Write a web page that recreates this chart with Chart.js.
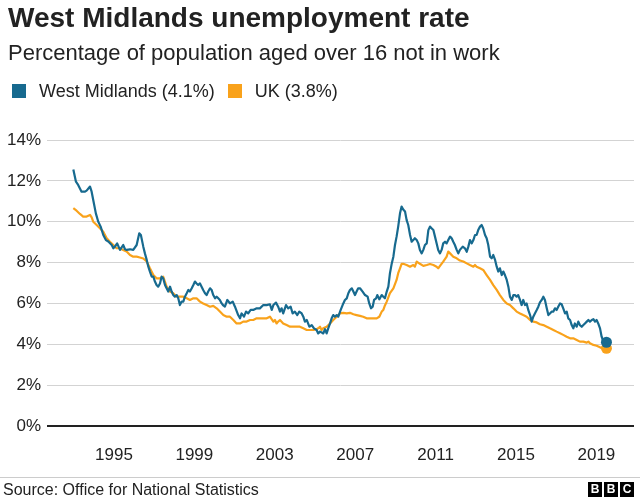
<!DOCTYPE html>
<html>
<head>
<meta charset="utf-8">
<title>West Midlands unemployment rate</title>
<script src="https://cdn.jsdelivr.net/npm/chart.js@4/dist/chart.umd.min.js"></script>
<style>
    html, body { margin: 0; padding: 0; background: #fff; }
    body { font-family: "Liberation Sans", Arial, Helvetica, sans-serif; color: #222; }
    #wrap { position: relative; width: 640px; height: 500px; overflow: hidden; }
    #chart { position: absolute; left: 0; top: 0; }
    .title { position: absolute; left: 8px; top: 4px; font-size: 28px; line-height: 28px; font-weight: bold; white-space: nowrap; }
    .subtitle { position: absolute; left: 8px; top: 42px; font-size: 22px; line-height: 22px; white-space: nowrap; }
    .legend { position: absolute; left: 12px; top: 82px; font-size: 18px; line-height: 18px; white-space: nowrap; }
    .legend span.item { display: inline-block; margin-right: 13px; }
    .legend i { display: inline-block; width: 14px; height: 14px; margin-right: 13px; vertical-align: -1px; }
    .rule { position: absolute; left: 0; top: 477px; width: 640px; height: 1px; background: #cccccc; }
    .source { position: absolute; left: 3px; top: 482px; font-size: 16px; line-height: 16px; white-space: nowrap; }
    .bbc { position: absolute; top: 482px; width: 14px; height: 15px; background: #000; color: #fff;
           font-weight: bold; font-size: 12px; line-height: 15px; text-align: center; }
</style>
</head>
<body>
<div id="wrap">
    <canvas id="chart" width="640" height="500"></canvas>
    <div class="title">West Midlands unemployment rate</div>
    <div class="subtitle">Percentage of population aged over 16 not in work</div>
    <div class="legend">
        <span class="item"><i style="background:#176a8f"></i>West Midlands (4.1%)</span><span class="item"><i style="background:#f9a21b"></i>UK (3.8%)</span>
    </div>
    <div class="rule"></div>
    <div class="source">Source: Office for National Statistics</div>
    <div class="bbc" style="left:588px">B</div>
    <div class="bbc" style="left:604px">B</div>
    <div class="bbc" style="left:620px">C</div>
</div>
<script>
// Axis ticks
const xTicks = [1995, 1999, 2003, 2007, 2011, 2015, 2019];
const yTicks = [0, 2, 4, 6, 8, 10, 12, 14];

// West Midlands, decimal year / rate (%)
const wmYears = [
    1992.98, 1993.11, 1993.22, 1993.39, 1993.56, 1993.64, 1993.81, 1993.89, 1993.97, 1994.10,
    1994.22, 1994.34, 1994.47, 1994.60, 1994.72, 1994.89, 1994.97, 1995.05, 1995.16, 1995.30,
    1995.46, 1995.55, 1995.63, 1995.80, 1995.96, 1996.13, 1996.26, 1996.34, 1996.46, 1996.54,
    1996.63, 1996.71, 1996.79, 1996.88, 1996.96, 1997.04, 1997.12, 1997.20, 1997.29, 1997.37,
    1997.45, 1997.54, 1997.62, 1997.70, 1997.79, 1997.87, 1997.95, 1998.03, 1998.12, 1998.20,
    1998.28, 1998.37, 1998.45, 1998.53, 1998.62, 1998.70, 1998.78, 1998.87, 1998.95, 1999.03,
    1999.11, 1999.19, 1999.28, 1999.36, 1999.44, 1999.53, 1999.61, 1999.69, 1999.78, 1999.86,
    1999.94, 2000.03, 2000.11, 2000.19, 2000.27, 2000.36, 2000.44, 2000.52, 2000.64, 2000.77,
    2000.91, 2001.02, 2001.18, 2001.27, 2001.35, 2001.47, 2001.57, 2001.68, 2001.80, 2001.93,
    2002.10, 2002.26, 2002.43, 2002.60, 2002.76, 2002.85, 2002.93, 2003.06, 2003.17, 2003.26,
    2003.34, 2003.42, 2003.56, 2003.67, 2003.79, 2003.89, 2004.00, 2004.12, 2004.22, 2004.34,
    2004.42, 2004.50, 2004.59, 2004.72, 2004.84, 2004.95, 2005.08, 2005.16, 2005.25, 2005.33,
    2005.41, 2005.50, 2005.58, 2005.66, 2005.75, 2005.83, 2005.91, 2005.99, 2006.08, 2006.16,
    2006.28, 2006.41, 2006.49, 2006.58, 2006.66, 2006.74, 2006.83, 2006.91, 2006.99, 2007.07,
    2007.15, 2007.24, 2007.37, 2007.49, 2007.62, 2007.70, 2007.79, 2007.87, 2007.94, 2008.04,
    2008.10, 2008.20, 2008.32, 2008.40, 2008.48, 2008.57, 2008.65, 2008.73, 2008.82, 2008.90,
    2008.98, 2009.06, 2009.14, 2009.23, 2009.31, 2009.39, 2009.48, 2009.56, 2009.64, 2009.73,
    2009.81, 2009.89, 2009.97, 2010.06, 2010.14, 2010.22, 2010.31, 2010.39, 2010.47, 2010.56,
    2010.64, 2010.72, 2010.81, 2010.89, 2010.97, 2011.05, 2011.13, 2011.22, 2011.30, 2011.38,
    2011.47, 2011.55, 2011.63, 2011.72, 2011.80, 2011.88, 2011.96, 2012.05, 2012.13, 2012.21,
    2012.35, 2012.46, 2012.55, 2012.63, 2012.71, 2012.80, 2012.88, 2012.96, 2013.04, 2013.12,
    2013.21, 2013.29, 2013.37, 2013.46, 2013.54, 2013.62, 2013.71, 2013.79, 2013.87, 2013.96,
    2014.04, 2014.12, 2014.20, 2014.29, 2014.37, 2014.45, 2014.54, 2014.62, 2014.70, 2014.79,
    2014.87, 2014.95, 2015.03, 2015.11, 2015.20, 2015.28, 2015.36, 2015.45, 2015.53, 2015.61,
    2015.70, 2015.78, 2015.86, 2015.94, 2016.03, 2016.11, 2016.19, 2016.28, 2016.36, 2016.44,
    2016.53, 2016.61, 2016.69, 2016.78, 2016.86, 2016.94, 2017.02, 2017.10, 2017.19, 2017.27,
    2017.35, 2017.44, 2017.52, 2017.60, 2017.69, 2017.77, 2017.85, 2017.93, 2018.02, 2018.10,
    2018.18, 2018.27, 2018.35, 2018.43, 2018.52, 2018.60, 2018.68, 2018.77, 2018.85, 2018.93,
    2019.01, 2019.09, 2019.18, 2019.26, 2019.34, 2019.50
];
const wmRate = [
    12.56, 11.96, 11.8, 11.47, 11.47, 11.52, 11.72, 11.47, 11.06, 10.41,
    10.0, 9.76, 9.35, 9.1, 9.03, 8.86, 8.7, 8.78, 8.94, 8.62,
    8.86, 8.65, 8.62, 8.65, 8.62, 8.86, 9.43, 9.35, 8.78, 8.45,
    8.13, 7.8, 7.56, 7.31, 7.31, 7.07, 6.9, 6.82, 6.98, 7.31,
    7.23, 6.9, 6.74, 6.58, 6.82, 6.58, 6.41, 6.33, 6.41, 6.25,
    5.92, 6.09, 6.09, 6.33, 6.5, 6.66, 6.58, 6.74, 6.9, 7.07,
    6.98, 6.9, 6.98, 6.82, 6.66, 6.5, 6.41, 6.58, 6.74, 6.66,
    6.41, 6.25, 6.33, 6.25, 6.17, 6.0, 5.9, 5.84, 6.17, 6.0,
    6.09, 5.84, 5.43, 5.27, 5.51, 5.35, 5.6, 5.51, 5.68, 5.68,
    5.76, 5.76, 5.92, 5.92, 5.96, 5.68, 5.92, 6.04, 5.84, 5.6,
    5.76, 5.51, 5.92, 5.76, 5.84, 5.51, 5.6, 5.43, 5.6, 5.51,
    5.35, 5.11, 5.19, 4.86, 4.94, 4.78, 4.7, 4.53, 4.62, 4.58,
    4.53, 4.74, 4.53, 4.78, 5.02, 5.27, 5.43, 5.35, 5.43, 5.35,
    5.68, 6.0, 6.17, 6.25, 6.5, 6.66, 6.74, 6.58, 6.41, 6.58,
    6.74, 6.74, 6.58, 6.41, 6.33, 6.0, 5.76, 5.84, 6.17, 6.25,
    6.41, 6.2, 6.41, 6.33, 6.25, 6.58, 6.82, 7.48, 7.96, 8.29,
    8.86, 9.27, 9.76, 10.41, 10.74, 10.6, 10.5, 10.08, 9.84, 9.35,
    9.02, 9.1, 9.19, 9.1, 8.94, 8.62, 8.45, 8.62, 8.86, 8.94,
    9.59, 9.76, 9.67, 9.59, 9.27, 8.94, 8.62, 8.45, 8.62, 8.94,
    9.02, 8.94, 9.1, 9.27, 9.19, 9.02, 8.86, 8.62, 8.45, 8.62,
    8.78, 8.7, 8.53, 8.78, 9.1, 8.94, 9.1, 9.35, 9.35, 9.59,
    9.76, 9.84, 9.67, 9.35, 9.19, 8.86, 8.29, 8.21, 8.37, 8.13,
    7.8, 7.56, 7.72, 7.39, 7.56, 7.39, 7.15, 6.82, 6.33, 6.17,
    6.41, 6.41, 6.33, 6.41, 6.17, 5.92, 6.17, 5.92, 6.0, 5.68,
    5.43, 5.11, 5.35, 5.51, 5.68, 5.84, 6.05, 6.17, 6.33, 6.17,
    5.76, 5.43, 5.51, 5.6, 5.6, 5.76, 5.68, 5.84, 6.0, 5.96,
    5.76, 5.51, 5.6, 5.27, 5.19, 4.94, 4.78, 5.02, 4.86, 5.11,
    4.94, 4.86, 4.94, 5.02, 5.11, 5.19, 5.11, 5.19, 5.23, 5.11,
    5.19, 5.02, 4.78, 4.37, 4.15, 4.1
];

// UK, decimal year / rate (%)
const ukYears = [
    1992.98, 1993.14, 1993.31, 1993.47, 1993.64, 1993.81, 1993.89, 1993.97, 1994.14, 1994.30,
    1994.47, 1994.64, 1994.80, 1994.97, 1995.13, 1995.30, 1995.46, 1995.63, 1995.80, 1995.96,
    1996.13, 1996.29, 1996.46, 1996.63, 1996.79, 1996.96, 1997.12, 1997.29, 1997.45, 1997.62,
    1997.79, 1997.95, 1998.12, 1998.28, 1998.45, 1998.62, 1998.78, 1998.95, 1999.11, 1999.28,
    1999.44, 1999.61, 1999.78, 1999.94, 2000.11, 2000.27, 2000.44, 2000.61, 2000.77, 2000.94,
    2001.10, 2001.27, 2001.43, 2001.60, 2001.77, 2001.93, 2002.10, 2002.26, 2002.43, 2002.60,
    2002.76, 2002.93, 2003.01, 2003.09, 2003.17, 2003.26, 2003.42, 2003.59, 2003.76, 2003.92,
    2004.09, 2004.25, 2004.42, 2004.59, 2004.75, 2004.92, 2005.08, 2005.16, 2005.25, 2005.33,
    2005.41, 2005.58, 2005.75, 2005.91, 2006.08, 2006.24, 2006.41, 2006.58, 2006.74, 2006.91,
    2007.07, 2007.24, 2007.40, 2007.57, 2007.74, 2007.90, 2008.07, 2008.20, 2008.32, 2008.40,
    2008.48, 2008.57, 2008.73, 2008.90, 2009.06, 2009.14, 2009.23, 2009.31, 2009.39, 2009.56,
    2009.73, 2009.89, 2009.97, 2010.06, 2010.22, 2010.39, 2010.56, 2010.72, 2010.89, 2011.05,
    2011.13, 2011.22, 2011.38, 2011.55, 2011.63, 2011.72, 2011.88, 2012.05, 2012.21, 2012.38,
    2012.55, 2012.71, 2012.88, 2012.96, 2013.04, 2013.21, 2013.37, 2013.54, 2013.71, 2013.87,
    2014.04, 2014.20, 2014.37, 2014.54, 2014.70, 2014.87, 2015.03, 2015.20, 2015.36, 2015.53,
    2015.70, 2015.86, 2016.03, 2016.19, 2016.36, 2016.53, 2016.69, 2016.86, 2017.02, 2017.19,
    2017.35, 2017.52, 2017.69, 2017.85, 2018.02, 2018.18, 2018.35, 2018.52, 2018.60, 2018.68,
    2018.85, 2019.01, 2019.18, 2019.34, 2019.50
];
const ukRate = [
    10.66, 10.54, 10.38, 10.25, 10.25, 10.33, 10.21, 10.0, 9.84, 9.68,
    9.51, 9.19, 9.02, 8.86, 8.7, 8.7, 8.62, 8.54, 8.37, 8.29,
    8.29, 8.25, 8.2, 8.05, 7.72, 7.39, 7.23, 7.23, 7.31, 6.82,
    6.58, 6.5, 6.33, 6.33, 6.33, 6.25, 6.17, 6.25, 6.25, 6.09,
    6.0, 5.92, 5.84, 5.88, 5.76, 5.6, 5.43, 5.35, 5.35, 5.19,
    5.02, 5.02, 5.11, 5.11, 5.19, 5.19, 5.27, 5.27, 5.27, 5.27,
    5.35, 5.11, 5.19, 5.02, 5.11, 5.19, 5.02, 4.94, 4.86, 4.86,
    4.86, 4.86, 4.78, 4.7, 4.7, 4.7, 4.74, 4.78, 4.86, 4.7,
    4.78, 4.86, 5.02, 5.19, 5.35, 5.51, 5.54, 5.51, 5.54, 5.47,
    5.43, 5.39, 5.35, 5.27, 5.27, 5.27, 5.27, 5.35, 5.6, 5.68,
    5.9, 6.09, 6.5, 6.74, 7.15, 7.48, 7.72, 7.94, 7.94, 7.88,
    7.8, 7.88, 7.8, 8.05, 7.94, 7.84, 7.88, 7.93, 7.88, 7.8,
    7.72, 7.84, 8.05, 8.29, 8.54, 8.45, 8.29, 8.21, 8.1, 8.05,
    7.96, 7.88, 7.8, 7.88, 7.8, 7.72, 7.64, 7.39, 7.15, 6.9,
    6.66, 6.41, 6.17, 6.0, 5.92, 5.76, 5.6, 5.51, 5.43, 5.35,
    5.19, 5.11, 5.07, 4.98, 4.94, 4.86, 4.78, 4.7, 4.62, 4.54,
    4.46, 4.37, 4.29, 4.29, 4.21, 4.13, 4.13, 4.08, 4.13, 4.05,
    3.97, 3.93, 3.85, 3.8, 3.8
];

// Colours
const WM_BLUE = '#176a8f';
const UK_ORANGE = '#f9a21b';
const FONT = '"Liberation Sans", Arial, Helvetica, sans-serif';

/**
 * Zip two arrays into {x, y} points
 */
function toPoints(xs, ys) {
    return xs.map((x, i) => ({ x: x, y: ys[i] }));
}

/**
 * Only the latest value gets a dot
 */
function lastDot(ctx) {
    return ctx.dataIndex === ctx.dataset.data.length - 1 ? 5.5 : 0;
}

function lineDataset(label, points, colour) {
    return {
        label: label,
        data: points,
        borderColor: colour,
        backgroundColor: colour,
        borderWidth: 2.2,
        borderJoinStyle: 'round',
        tension: 0,
        pointRadius: lastDot,
        pointHoverRadius: 0,
        pointBorderWidth: 0,
        pointBackgroundColor: colour
    };
}

const ctx = document.getElementById('chart').getContext('2d');
new Chart(ctx, {
    type: 'line',
    data: {
        datasets: [
            lineDataset('West Midlands (4.1%)', toPoints(wmYears, wmRate), WM_BLUE),
            lineDataset('UK (3.8%)', toPoints(ukYears, ukRate), UK_ORANGE)
        ]
    },
    options: {
        responsive: false,
        animation: false,
        devicePixelRatio: 1,
        layout: { padding: { left: 0, top: 140, right: 6, bottom: 34 } },
        plugins: {
            legend: { display: false },
            title: { display: false },
            tooltip: { enabled: false }
        },
        scales: {
            x: {
                type: 'linear',
                min: 1991.67,
                max: 2020.87,
                grid: { display: false, drawTicks: false },
                border: { display: false },
                afterBuildTicks: function(scale) {
                    scale.ticks = xTicks.map(v => ({ value: v }));
                },
                afterFit: function(scale) { scale.height = 40; },
                ticks: {
                    padding: 19,
                    maxRotation: 0,
                    autoSkip: false,
                    color: '#222',
                    font: { family: FONT, size: 17 },
                    callback: v => String(v)
                }
            },
            y: {
                min: 0,
                max: 14,
                grid: {
                    drawTicks: false,
                    color: c => (c.tick && c.tick.value === 0 ? '#222' : '#d3d3d3'),
                    lineWidth: c => (c.tick && c.tick.value === 0 ? 2 : 1)
                },
                border: { display: false },
                afterBuildTicks: function(scale) {
                    scale.ticks = yTicks.map(v => ({ value: v }));
                },
                afterFit: function(scale) { scale.width = 47; },
                ticks: {
                    padding: 6,
                    color: '#222',
                    font: { family: FONT, size: 17 },
                    callback: v => v + '%'
                }
            }
        }
    }
});
</script>
</body>
</html>
